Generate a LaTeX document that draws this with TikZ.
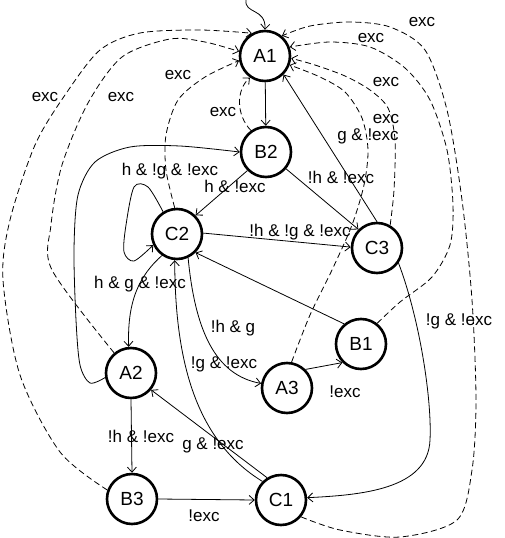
\documentclass[tikz,border=0pt]{standalone}
\usepackage{fontspec}
\setmainfont{Liberation Sans}
\usetikzlibrary{arrows.meta}
\begin{document}
\begin{tikzpicture}[x=1pt,y=-1pt,
  st/.style={circle,draw,line width=2.6pt,minimum size=50pt,inner sep=0pt,font=\fontsize{19}{22}\selectfont},
  lbl/.style={inner sep=0pt,text height=10pt,text depth=0pt,font=\fontsize{17}{20}\selectfont},
  edge/.style={line width=0.8pt,-{Straight Barb[length=5pt,width=9pt]}},
  exc/.style={edge,dash pattern=on 6pt off 3.5pt}]
\useasboundingbox (0,0) rectangle (504,538);
% states
\node[st] (A1) at (265,56) {A1};
\node[st] (B2) at (266,152) {B2};
\node[st] (C2) at (177,234) {C2};
\node[st] (C3) at (377,248) {C3};
\node[st] (A2) at (131,373) {A2};
\node[st] (B3) at (132,499) {B3};
\node[st] (C1) at (281,500) {C1};
\node[st] (A3) at (287,388) {A3};
\node[st] (B1) at (361,344) {B1};
\coordinate (s0) at (246,0);
% initial
\draw[edge] (s0) .. controls (244,14) and (266,8) .. (A1.north);
% solid edges
\draw[edge] (A1) -- (B2);
\draw[edge] (C3.90) -- (A1.-45);
\draw[edge] (B2.-135) -- (C2.45);
\draw[edge] (B2.-40) -- (C3.135);
\draw[edge] (C2.2) -- (C3.178);
\draw[edge] plot[smooth] coordinates {(C2.122) (148,187) (134,187) (126,225) (124,252) (134,261) (C2.205)};
\draw[edge] plot[smooth] coordinates {(A2.190) (90,383) (80,365) (76,320) (74,250) (78,195) (95,162) (130,147) (180,146) (B2.180)};
\draw[edge] (C2.235) .. controls (140,275) and (127,300) .. (A2.95);
\draw[edge] (C2.-65) .. controls (195,330) and (215,375) .. (A3.170);
\draw[edge] (C1.135) .. controls (195,440) and (175,360) .. (C2.265);
\draw[edge] (B1.130) -- (C2.-45);
\draw[edge] (C3.-35) .. controls (420,320) and (432,400) .. (430,440) .. controls (428,490) and (360,495) .. (C1.5);
\draw[edge] (A3.45) -- (B1.225);
\draw[edge] (A2.-90) -- (B3.90);
\draw[edge] (C1.122) -- (A2.-40);
\draw[edge] (B3.0) -- (C1.180);
% dashed exc edges
\draw[exc] (B2.125) .. controls (236,115) and (236,90) .. (A1.235);
\draw[exc] plot[smooth] coordinates {(C2.95) (166,170) (166,135) (178,100) (205,77) (A1.190)};
\draw[exc] plot[smooth] coordinates {(A2.130) (52,270) (51,225) (62,165) (88,103) (122,57) (170,39) (205,42) (A1.170)};
\draw[exc] plot[smooth] coordinates {(B3.160) (60,452) (20,375) (3,280) (10,220) (35,145) (65,95) (100,50) (140,33) (200,30) (A1.120)};
\draw[exc] plot[smooth] coordinates {(C1.-40) (340,530) (400,537) (457,520) (472,470) (476,400) (472,300) (462,200) (447,110) (425,50) (390,27) (350,22) (310,26) (A1.50)};
\draw[exc] plot[smooth] coordinates {(B1.52) (400,302) (432,277) (450,245) (453,205) (447,150) (430,100) (405,68) (370,47) (330,42) (A1.20)};
\draw[exc] plot[smooth] coordinates {(C3.60) (394,190) (395,140) (388,108) (370,90) (345,76) (315,65) (A1.-5)};
\draw[exc] plot[smooth] coordinates {(A3.80) (310,315) (332,270) (352,225) (364,185) (368,150) (362,118) (345,92) (320,77) (A1.-20)};
% labels
\node[lbl] (t1) at (45,96) {exc};
\node[lbl] (t2) at (121,96) {exc};
\node[lbl] (t3) at (178,74) {exc};
\node[lbl] (t4) at (223,111) {exc};
\node[lbl] (t5) at (422,22) {exc};
\node[lbl] (t6) at (371,37) {exc};
\node[lbl] (t7) at (386,81) {exc};
\node[lbl] (t8) at (386,118) {exc};
\node[lbl] (t9) at (368,135) {g \& !exc};
\node[lbl] (t10) at (341,178) {!h \& !exc};
\node[lbl] (t11) at (235,187) {h \& !exc};
\node[lbl] (t12) at (170,170) {h \& !g \& !exc};
\node[lbl] (t13) at (300,231) {!h \& !g \& !exc};
\node[lbl] (t14) at (140,283) {h \& g \& !exc};
\node[lbl] (t15) at (233,327) {!h \& g};
\node[lbl] (t16) at (224,363) {!g \& !exc};
\node[lbl] (t17) at (345,392) {!exc};
\node[lbl] (t18) at (459,320) {!g \& !exc};
\node[lbl] (t19) at (141,437) {!h \& !exc};
\node[lbl] (t20) at (213,444) {g \& !exc};
\node[lbl] (t21) at (204,516) {!exc};
\end{tikzpicture}
\end{document}
